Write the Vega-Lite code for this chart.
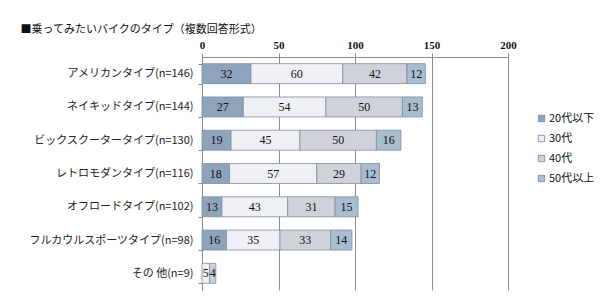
{
  "$schema": "https://vega.github.io/schema/vega-lite/v6.json",
  "autosize": "none",
  "width": 306,
  "height": 233,
  "padding": {"left": 202, "top": 57, "right": 92, "bottom": 12},
  "background": "white",
  "title": {
    "text": "■乗ってみたいバイクのタイプ（複数回答形式）",
    "anchor": "start",
    "dx": -8,
    "fontSize": 11,
    "font": "Noto Sans CJK JP",
    "fontWeight": "normal",
    "color": "#111",
    "offset": 4
  },
  "config": {
    "view": {"stroke": null},
    "font": "Noto Sans CJK JP"
  },
  "data": {
    "values": [
      {"type": "アメリカンタイプ(n=146)", "series": "20代以下", "value": 32},
      {"type": "アメリカンタイプ(n=146)", "series": "30代", "value": 60},
      {"type": "アメリカンタイプ(n=146)", "series": "40代", "value": 42},
      {"type": "アメリカンタイプ(n=146)", "series": "50代以上", "value": 12},
      {"type": "ネイキッドタイプ(n=144)", "series": "20代以下", "value": 27},
      {"type": "ネイキッドタイプ(n=144)", "series": "30代", "value": 54},
      {"type": "ネイキッドタイプ(n=144)", "series": "40代", "value": 50},
      {"type": "ネイキッドタイプ(n=144)", "series": "50代以上", "value": 13},
      {"type": "ビックスクータータイプ(n=130)", "series": "20代以下", "value": 19},
      {"type": "ビックスクータータイプ(n=130)", "series": "30代", "value": 45},
      {"type": "ビックスクータータイプ(n=130)", "series": "40代", "value": 50},
      {"type": "ビックスクータータイプ(n=130)", "series": "50代以上", "value": 16},
      {"type": "レトロモダンタイプ(n=116)", "series": "20代以下", "value": 18},
      {"type": "レトロモダンタイプ(n=116)", "series": "30代", "value": 57},
      {"type": "レトロモダンタイプ(n=116)", "series": "40代", "value": 29},
      {"type": "レトロモダンタイプ(n=116)", "series": "50代以上", "value": 12},
      {"type": "オフロードタイプ(n=102)", "series": "20代以下", "value": 13},
      {"type": "オフロードタイプ(n=102)", "series": "30代", "value": 43},
      {"type": "オフロードタイプ(n=102)", "series": "40代", "value": 31},
      {"type": "オフロードタイプ(n=102)", "series": "50代以上", "value": 15},
      {"type": "フルカウルスポーツタイプ(n=98)", "series": "20代以下", "value": 16},
      {"type": "フルカウルスポーツタイプ(n=98)", "series": "30代", "value": 35},
      {"type": "フルカウルスポーツタイプ(n=98)", "series": "40代", "value": 33},
      {"type": "フルカウルスポーツタイプ(n=98)", "series": "50代以上", "value": 14},
      {"type": "その 他(n=9)", "series": "30代", "value": 5},
      {"type": "その 他(n=9)", "series": "40代", "value": 4}
    ]
  },
  "encoding": {
    "y": {
      "field": "type",
      "type": "nominal",
      "sort": null,
      "scale": {"paddingInner": 0.4, "paddingOuter": 0.2},
      "axis": {
        "title": null,
        "orient": "left",
        "domainColor": "#8c8c8c",
        "tickColor": "#8c8c8c",
        "tickSize": 4,
        "tickBand": "extent",
        "labelPadding": 5,
        "labelFontSize": 11,
        "labelColor": "#222",
        "labelFont": "Noto Sans CJK JP"
      }
    },
    "x": {
      "field": "value",
      "type": "quantitative",
      "stack": "zero",
      "scale": {"domain": [0, 200], "nice": false},
      "axis": {
        "title": null,
        "orient": "top",
        "values": [0, 50, 100, 150, 200],
        "grid": true,
        "gridColor": "#8c8c8c",
        "gridOpacity": 1,
        "domainColor": "#8c8c8c",
        "tickColor": "#8c8c8c",
        "tickSize": 4,
        "labelPadding": 3,
        "labelFont": "Liberation Serif",
        "labelFontWeight": "bold",
        "labelFontSize": 11,
        "labelColor": "#111",
        "labelFlush": false
      }
    },
    "order": {"field": "series", "type": "nominal", "sort": "ascending"}
  },
  "layer": [
    {
      "mark": {"type": "bar", "stroke": "#7d8ea3", "strokeWidth": 0.8},
      "encoding": {
        "color": {
          "field": "series",
          "type": "nominal",
          "scale": {
            "domain": ["20代以下", "30代", "40代", "50代以上"],
            "range": ["#8ea4bb", "#eef0f4", "#cfd3d9", "#a9bdd1"]
          },
          "legend": {
            "title": null,
            "orient": "none",
            "legendX": 334,
            "legendY": 56,
            "symbolType": "square",
            "symbolSize": 40,
            "symbolStrokeColor": "#6f86a0",
            "symbolStrokeWidth": 0.8,
            "labelFontSize": 11,
            "labelFont": "Noto Sans CJK JP",
            "labelColor": "#111",
            "labelOffset": 2,
            "rowPadding": 8
          }
        }
      }
    },
    {
      "mark": {"type": "text", "font": "Liberation Serif", "fontSize": 12, "color": "#111"},
      "encoding": {
        "x": {"field": "value", "type": "quantitative", "stack": "zero", "bandPosition": 0.5},
        "detail": {"field": "series", "type": "nominal"},
        "text": {"field": "value", "type": "quantitative"}
      }
    }
  ]
}
